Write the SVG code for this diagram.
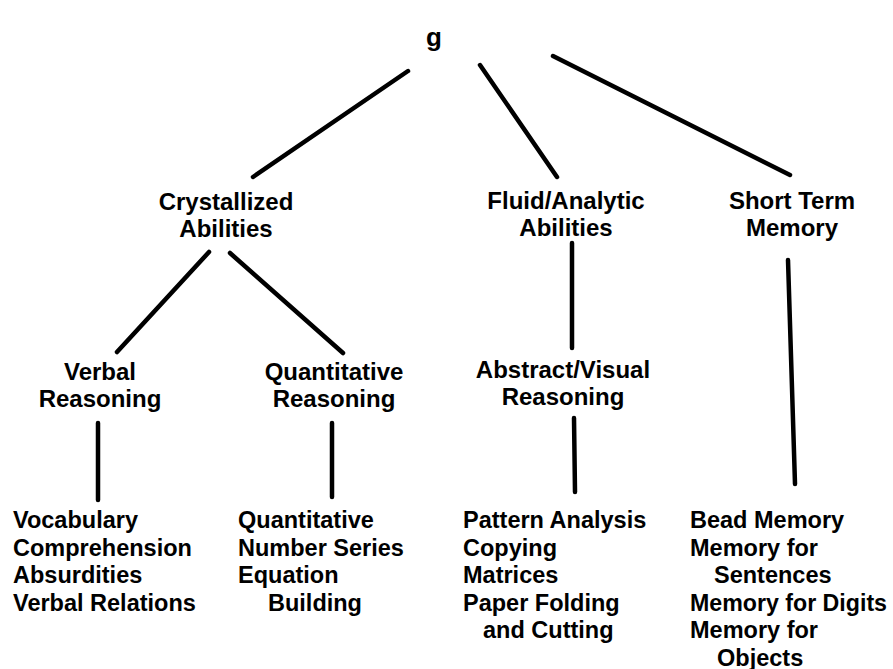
<svg xmlns="http://www.w3.org/2000/svg" width="893" height="669" viewBox="0 0 893 669">
<style>
text{font-family:"Liberation Sans",Arial,Helvetica,sans-serif;font-weight:bold;font-size:24px;fill:#000}
.c{text-anchor:middle}
.g{font-size:26px}
.leaf text{font-size:23.5px}
.ln{stroke:#000;stroke-width:4.5;stroke-linecap:round;fill:none}
</style>
<rect width="893" height="669" fill="#fff"/>
<g id="connectors">
<line class="ln" x1="408" y1="71" x2="253" y2="177"/>
<line class="ln" x1="480" y1="65" x2="557" y2="177"/>
<line class="ln" x1="553" y1="56" x2="790" y2="175"/>
<line class="ln" x1="209" y1="252" x2="117" y2="352"/>
<line class="ln" x1="230" y1="253" x2="343" y2="353"/>
<line class="ln" x1="572" y1="243" x2="572" y2="348"/>
<line class="ln" x1="788" y1="260" x2="795" y2="484"/>
<line class="ln" x1="98" y1="423" x2="98" y2="500"/>
<line class="ln" x1="332" y1="423" x2="332" y2="497"/>
<line class="ln" x1="574" y1="418" x2="575" y2="492"/>
</g>
<g id="g-node"><text class="c g" x="434" y="46">g</text></g>
<g id="crystallized"><text class="c" x="226" y="210">Crystallized</text><text class="c" x="226" y="237">Abilities</text></g>
<g id="fluid"><text class="c" x="566" y="209">Fluid/Analytic</text><text class="c" x="566" y="236">Abilities</text></g>
<g id="stm"><text class="c" x="792" y="209">Short Term</text><text class="c" x="792" y="236">Memory</text></g>
<g id="verbal"><text class="c" x="100" y="380">Verbal</text><text class="c" x="100" y="407">Reasoning</text></g>
<g id="quant"><text class="c" x="334" y="380">Quantitative</text><text class="c" x="334" y="407">Reasoning</text></g>
<g id="abstract"><text class="c" x="563" y="378">Abstract/Visual</text><text class="c" x="563" y="405">Reasoning</text></g>
<g id="verbal-tests" class="leaf"><text x="13" y="528">Vocabulary</text><text x="13" y="555.5">Comprehension</text><text x="13" y="583">Absurdities</text><text x="13" y="610.5">Verbal Relations</text></g>
<g id="quant-tests" class="leaf"><text x="238" y="528">Quantitative</text><text x="238" y="555.5">Number Series</text><text x="238" y="583">Equation</text><text x="268" y="610.5">Building</text></g>
<g id="abstract-tests" class="leaf"><text x="463" y="528">Pattern Analysis</text><text x="463" y="555.5">Copying</text><text x="463" y="583">Matrices</text><text x="463" y="610.5">Paper Folding</text><text x="483" y="638">and Cutting</text></g>
<g id="memory-tests" class="leaf"><text x="690" y="528">Bead Memory</text><text x="690" y="555.5">Memory for</text><text x="714" y="583">Sentences</text><text x="690" y="610.5" textLength="197" lengthAdjust="spacingAndGlyphs">Memory for Digits</text><text x="690" y="638">Memory for</text><text x="717" y="665.5">Objects</text></g>
</svg>
